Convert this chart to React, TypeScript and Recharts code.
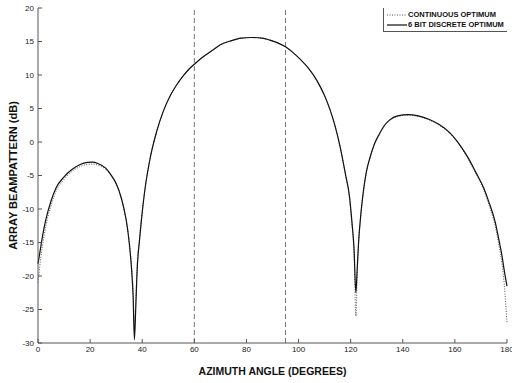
import React from 'react';
import { LineChart, Line, XAxis, YAxis, ReferenceLine } from 'recharts';

const angles = [0,1,2,3,5,7,10,13,16,19,21,23,26,28,30,32,33,34,35,36,36.5,37,37.5,38,39,40,41,43,45.5,48,50.6,53,55.8,58,60,63,67,70,74,78,82,86,89,92,95,98,100.5,104,107,110,112,114,116,118,119.5,120.5,121.3,122,122.5,123,124,125,126,127.5,129,131,133,135,138,142,146,150,154,158,162,165,168,171,173,175.5,177,178,179,180];

const discrete = [
  -18.2,-15.8,-13.5,-11.6,-8.8,-6.8,-5.2,-4.1,-3.4,-3.05,
  -3.0,-3.2,-3.9,-4.9,-6.2,-8.4,-10.0,-12.0,-15.0,-19.5,
  -23,-29.5,-25,-19.5,-14.5,-10.5,-7.2,-2.5,1.5,4.5,
  6.8,8.4,9.9,10.9,11.6,12.6,13.7,14.5,15.1,15.5,
  15.6,15.5,15.2,14.8,14.2,13.3,12.4,10.9,9.2,6.9,
  4.9,2.4,-0.8,-4.8,-8,-12,-16,-22.5,-19,-15.2,
  -10.4,-7.0,-4.5,-2.2,-0.4,1.2,2.5,3.3,3.9,4.1,
  3.9,3.4,2.6,1.4,-0.5,-2.3,-4.5,-6.8,-8.9,-12,
  -14.8,-16.8,-19.3,-21.5
];

const continuous = [
  -21.0,-17.5,-14.8,-12.6,-9.5,-7.3,-5.6,-4.4,-3.7,-3.35,
  -3.3,-3.45,-4.1,-5.0,-6.3,-8.5,-10.0,-12.0,-14.8,-19.0,
  -22.0,-28.0,-24.0,-19.0,-14.3,-10.4,-7.2,-2.5,1.5,4.5,
  6.8,8.4,9.9,10.9,11.6,12.6,13.7,14.5,15.1,15.5,
  15.6,15.5,15.2,14.8,14.2,13.3,12.4,10.9,9.2,6.9,
  4.9,2.4,-0.8,-4.9,-8.2,-12.3,-16.6,-26.0,-20.0,-15.5,
  -10.5,-7.1,-4.6,-2.3,-0.5,1.1,2.4,3.2,3.8,4.0,
  3.8,3.3,2.5,1.3,-0.6,-2.5,-4.7,-7.1,-9.3,-12.6,
  -15.6,-18.0,-21.5,-27.0
];

const xTicks = [0,20,40,60,80,100,120,140,160,180];
const yTicks = [-30,-25,-20,-15,-10,-5,0,5,10,15,20];
const markers = [60, 95];
const seriesNames = ['CONTINUOUS OPTIMUM', '6 BIT DISCRETE OPTIMUM'];
const xLabel = 'AZIMUTH ANGLE (DEGREES)';
const yLabel = 'ARRAY BEAMPATTERN (dB)';

const data = angles.map((a, i) => ({ angle: a, continuous: continuous[i], discrete: discrete[i] }));

const FONT = 'Arial, "Liberation Sans", Helvetica, sans-serif';
const tickStyle = { fontSize: 8, fill: '#222', fontFamily: FONT };

const seriesStyles = [
  { key: 'continuous', stroke: '#555', strokeWidth: 1, dash: '1 1.5' },
  { key: 'discrete', stroke: '#111', strokeWidth: 1.2, dash: undefined as string | undefined },
];

const LegendBox = () => (
  <div style={{ position: 'absolute', left: 383, top: 8, width: 124, height: 24, border: '1px solid #555', borderTop: 'none', borderRight: 'none', background: '#fff', boxSizing: 'border-box', paddingTop: 2 }}>
    {seriesStyles.map((s, i) => (
      <div key={s.key} style={{ display: 'flex', alignItems: 'center', height: 10 }}>
        <svg width={24} height={8} style={{ display: 'block', flex: 'none' }}>
          <line x1={3} y1={4} x2={23} y2={4} stroke={s.stroke} strokeWidth={s.strokeWidth} strokeDasharray={s.dash} />
        </svg>
        <span style={{ fontFamily: FONT, fontSize: 7.5, fontWeight: 'bold', color: '#111', whiteSpace: 'nowrap', lineHeight: '8px' }}>{seriesNames[i]}</span>
      </div>
    ))}
  </div>
);

const YLabel = (props: any) => {
  const vb = props.viewBox || {};
  const cx = 13;
  const cy = vb.y + vb.height / 2;
  return (
    <text x={cx} y={cy} transform={`rotate(-90 ${cx} ${cy})`} textAnchor="middle" dominantBaseline="central"
      style={{ fontFamily: FONT, fontSize: 11, fontWeight: 'bold', fill: '#111' }}>{yLabel}</text>
  );
};

export default function App() {
  return (
    <div style={{ position: 'absolute', left: 0, top: 0, width: 512, height: 383, background: '#fff' }}>
      <LineChart width={512} height={383} data={data} margin={{ top: 8, right: 5, bottom: 0, left: 0 }}>
        <XAxis dataKey="angle" type="number" domain={[0, 180]} ticks={xTicks} interval={0}
          height={40} tickSize={-4} tickMargin={7} stroke="#555" tick={tickStyle}
          label={{ value: xLabel, position: 'insideBottom', offset: 8, style: { fontFamily: FONT, fontSize: 10.5, fontWeight: 'bold', fill: '#111' } }} />
        <XAxis xAxisId="top" orientation="top" dataKey="angle" type="number" domain={[0, 180]} ticks={xTicks} interval={0}
          height={0} tickSize={-4} stroke="#555" tickFormatter={() => ''} />
        <YAxis type="number" domain={[-30, 20]} ticks={yTicks} interval={0} width={38} tickSize={-4} tickMargin={8}
          stroke="#555" tick={tickStyle} label={<YLabel />} allowDataOverflow />
        <YAxis yAxisId="right" orientation="right" type="number" domain={[-30, 20]} ticks={yTicks} interval={0} width={0}
          tickSize={-4} stroke="#555" tickFormatter={() => ''} />
        {markers.map((m) => (
          <ReferenceLine key={m} x={m} stroke="#777" strokeDasharray="5 3" strokeWidth={1} />
        ))}
        {seriesStyles.map((s, i) => (
          <Line key={s.key} name={seriesNames[i]} dataKey={s.key} type="monotone" stroke={s.stroke} strokeWidth={s.strokeWidth}
            strokeDasharray={s.dash} dot={false} isAnimationActive={false} />
        ))}
      </LineChart>
      <LegendBox />
    </div>
  );
}
